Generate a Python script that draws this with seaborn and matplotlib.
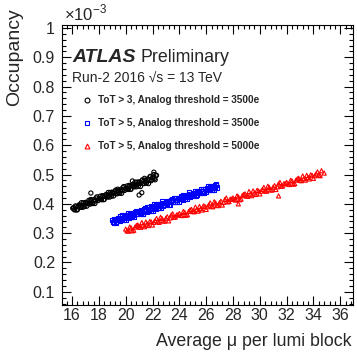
import matplotlib
matplotlib.use("Agg")
import matplotlib.pyplot as plt
from matplotlib.lines import Line2D
from matplotlib.ticker import MultipleLocator, FuncFormatter
import seaborn as sns
import pandas as pd

# Data (occupancy in units of 1e-3)
mu_tot3_3500_a = [16.1, 16.2, 16.3, 16.4, 16.5, 16.6, 16.7, 16.8, 16.9, 17.0,
                  17.1, 17.2, 17.3, 17.4, 17.5, 17.6, 17.7, 17.8, 17.9, 18.0,
                  18.1, 18.2, 18.3, 18.4, 18.5, 18.6, 18.7, 18.8, 18.9, 19.0,
                  19.1, 19.2, 19.3, 19.4, 19.5, 19.6, 19.7, 19.8, 19.9, 20.0,
                  20.1, 20.2, 20.3, 20.4, 20.5, 20.6, 20.7, 20.8, 20.9, 21.0,
                  21.1, 21.2, 21.3, 21.4, 21.5, 21.6, 21.7, 21.8, 21.9, 22.0,
                  22.1, 22.2, 22.3,
                  16.05, 17.4, 21.0, 21.2, 22.1, 20.5]
occ_tot3_3500_a = [0.387, 0.379, 0.390, 0.380, 0.395, 0.390, 0.404, 0.388, 0.397, 0.405,
                   0.392, 0.406, 0.401, 0.415, 0.403, 0.410, 0.401, 0.420, 0.411, 0.418,
                   0.426, 0.414, 0.425, 0.415, 0.430, 0.425, 0.439, 0.423, 0.432, 0.440,
                   0.427, 0.441, 0.436, 0.450, 0.438, 0.445, 0.436, 0.455, 0.446, 0.453,
                   0.461, 0.449, 0.460, 0.450, 0.465, 0.460, 0.474, 0.458, 0.467, 0.475,
                   0.459, 0.478, 0.469, 0.487, 0.471, 0.481, 0.469, 0.492, 0.479, 0.490,
                   0.500, 0.482, 0.497,
                   0.385, 0.437, 0.430, 0.438, 0.508, 0.478]
mu_tot3_3500_b = [16.15, 16.25, 16.35, 16.45, 16.55, 16.65, 16.75, 16.85, 16.95, 17.05,
                  17.15, 17.25, 17.35, 17.45, 17.55, 17.65, 17.75, 17.85, 17.95, 18.05,
                  18.15, 18.25, 18.35, 18.45, 18.55, 18.65, 18.75, 18.85, 18.95, 19.05,
                  19.15, 19.25, 19.35, 19.45, 19.55, 19.65, 19.75, 19.85, 19.95, 20.05,
                  20.15, 20.25, 20.35, 20.45, 20.55, 20.65, 20.75, 20.85, 20.95, 21.05,
                  21.15, 21.25, 21.35, 21.45, 21.55, 21.65, 21.75, 21.85, 21.95, 22.05,
                  22.15, 22.25]
occ_tot3_3500_b = [0.381, 0.393, 0.379, 0.391, 0.397, 0.388, 0.395, 0.404, 0.391, 0.403,
                   0.401, 0.412, 0.399, 0.411, 0.401, 0.415, 0.410, 0.424, 0.412, 0.418,
                   0.416, 0.428, 0.414, 0.426, 0.432, 0.423, 0.430, 0.439, 0.426, 0.438,
                   0.436, 0.447, 0.434, 0.446, 0.436, 0.450, 0.445, 0.459, 0.447, 0.453,
                   0.451, 0.463, 0.449, 0.461, 0.467, 0.458, 0.465, 0.474, 0.461, 0.473,
                   0.471, 0.482, 0.469, 0.481, 0.471, 0.485, 0.480, 0.494, 0.482, 0.488,
                   0.486, 0.498]

mu_tot5_3500_a = [19.0, 19.1, 19.2, 19.3, 19.4, 19.5, 19.6, 19.7, 19.8, 19.9,
                  20.0, 20.1, 20.2, 20.3, 20.4, 20.5, 20.6, 20.7, 20.8, 20.9,
                  21.0, 21.1, 21.2, 21.3, 21.4, 21.5, 21.6, 21.7, 21.8, 21.9,
                  22.0, 22.1, 22.2, 22.3, 22.4, 22.5, 22.6, 22.7, 22.8, 22.9,
                  23.0, 23.1, 23.2, 23.3, 23.4, 23.5, 23.6, 23.7, 23.8, 23.9,
                  24.0, 24.1, 24.2, 24.3, 24.4, 24.5, 24.6, 24.7, 24.8, 24.9,
                  25.0, 25.1, 25.2, 25.3, 25.4, 25.5, 25.6, 25.7, 25.8, 25.9,
                  26.0, 26.1, 26.2, 26.3, 26.4, 26.5, 26.6, 26.7, 26.8]
occ_tot5_3500_a = [0.344, 0.336, 0.346, 0.337, 0.351, 0.346, 0.359, 0.344, 0.352, 0.360,
                   0.346, 0.361, 0.355, 0.369, 0.357, 0.364, 0.355, 0.373, 0.364, 0.371,
                   0.375, 0.366, 0.377, 0.367, 0.382, 0.376, 0.390, 0.375, 0.383, 0.391,
                   0.377, 0.392, 0.386, 0.400, 0.387, 0.395, 0.385, 0.404, 0.394, 0.402,
                   0.406, 0.397, 0.408, 0.398, 0.413, 0.407, 0.421, 0.405, 0.414, 0.421,
                   0.408, 0.422, 0.417, 0.431, 0.418, 0.426, 0.416, 0.435, 0.425, 0.433,
                   0.436, 0.428, 0.438, 0.429, 0.443, 0.438, 0.452, 0.436, 0.445, 0.452,
                   0.439, 0.453, 0.448, 0.461, 0.449, 0.456, 0.447, 0.465, 0.456]
mu_tot5_3500_b = [19.05, 19.15, 19.25, 19.35, 19.45, 19.55, 19.65, 19.75, 19.85, 19.95,
                  20.05, 20.15, 20.25, 20.35, 20.45, 20.55, 20.65, 20.75, 20.85, 20.95,
                  21.05, 21.15, 21.25, 21.35, 21.45, 21.55, 21.65, 21.75, 21.85, 21.95,
                  22.05, 22.15, 22.25, 22.35, 22.45, 22.55, 22.65, 22.75, 22.85, 22.95,
                  23.05, 23.15, 23.25, 23.35, 23.45, 23.55, 23.65, 23.75, 23.85, 23.95,
                  24.05, 24.15, 24.25, 24.35, 24.45, 24.55, 24.65, 24.75, 24.85, 24.95,
                  25.05, 25.15, 25.25, 25.35, 25.45, 25.55, 25.65, 25.75, 25.85, 25.95,
                  26.05, 26.15, 26.25, 26.35, 26.45, 26.55, 26.65, 26.75]
occ_tot5_3500_b = [0.338, 0.349, 0.335, 0.347, 0.353, 0.343, 0.350, 0.360, 0.346, 0.358,
                   0.355, 0.367, 0.353, 0.365, 0.354, 0.369, 0.363, 0.377, 0.364, 0.371,
                   0.369, 0.380, 0.366, 0.378, 0.384, 0.374, 0.381, 0.390, 0.377, 0.388,
                   0.386, 0.398, 0.384, 0.396, 0.385, 0.400, 0.394, 0.408, 0.395, 0.402,
                   0.399, 0.411, 0.396, 0.409, 0.415, 0.405, 0.412, 0.421, 0.408, 0.419,
                   0.417, 0.428, 0.415, 0.426, 0.416, 0.430, 0.425, 0.439, 0.426, 0.433,
                   0.430, 0.442, 0.427, 0.440, 0.445, 0.436, 0.442, 0.452, 0.438, 0.450,
                   0.448, 0.459, 0.446, 0.457, 0.447, 0.461, 0.456, 0.469]

mu_tot5_5000_a = [20.0, 20.2, 20.4, 20.6, 20.8, 21.0, 21.2, 21.4, 21.6, 21.8,
                  22.0, 22.2, 22.4, 22.6, 22.8, 23.0, 23.2, 23.4, 23.6, 23.8,
                  24.0, 24.2, 24.4, 24.6, 24.8, 25.0, 25.2, 25.4, 25.6, 25.8,
                  26.0, 26.2, 26.4, 26.6, 26.8, 27.0, 27.2, 27.4, 27.6, 27.8,
                  28.0, 28.2, 28.4, 28.6, 28.8, 29.0, 29.2, 29.4, 29.6, 29.8,
                  30.0, 30.2, 30.4, 30.6, 30.8, 31.0, 31.2, 31.4, 31.6, 31.8,
                  32.0, 32.2, 32.4, 32.6, 32.8, 33.0, 33.2, 33.4, 33.6, 33.8,
                  34.0, 34.2, 34.4, 34.6,
                  28.4, 31.4, 34.8]
occ_tot5_5000_a = [0.314, 0.307, 0.318, 0.310, 0.326, 0.321, 0.336, 0.322, 0.331, 0.340,
                   0.328, 0.343, 0.339, 0.354, 0.342, 0.351, 0.342, 0.362, 0.354, 0.362,
                   0.367, 0.360, 0.371, 0.363, 0.379, 0.374, 0.389, 0.375, 0.384, 0.393,
                   0.381, 0.396, 0.392, 0.407, 0.395, 0.404, 0.396, 0.415, 0.407, 0.416,
                   0.420, 0.413, 0.424, 0.416, 0.432, 0.427, 0.442, 0.428, 0.437, 0.446,
                   0.434, 0.449, 0.445, 0.460, 0.448, 0.457, 0.449, 0.468, 0.460, 0.469,
                   0.473, 0.466, 0.478, 0.469, 0.485, 0.480, 0.495, 0.481, 0.490, 0.499,
                   0.487, 0.502, 0.498, 0.513,
                   0.400, 0.427, 0.505]
mu_tot5_5000_b = [20.1, 20.3, 20.5, 20.7, 20.9, 21.1, 21.3, 21.5, 21.7, 21.9,
                  22.1, 22.3, 22.5, 22.7, 22.9, 23.1, 23.3, 23.5, 23.7, 23.9,
                  24.1, 24.3, 24.5, 24.7, 24.9, 25.1, 25.3, 25.5, 25.7, 25.9,
                  26.1, 26.3, 26.5, 26.7, 26.9, 27.1, 27.3, 27.5, 27.7, 27.9,
                  28.1, 28.3, 28.5, 28.7, 28.9, 29.1, 29.3, 29.5, 29.7, 29.9,
                  30.1, 30.3, 30.5, 30.7, 30.9, 31.1, 31.3, 31.5, 31.7, 31.9,
                  32.1, 32.3, 32.5, 32.7, 32.9, 33.1, 33.3, 33.5, 33.7, 33.9,
                  34.1, 34.3, 34.5]
occ_tot5_5000_b = [0.308, 0.321, 0.308, 0.321, 0.328, 0.320, 0.327, 0.338, 0.326, 0.338,
                   0.337, 0.350, 0.337, 0.350, 0.341, 0.356, 0.352, 0.366, 0.355, 0.363,
                   0.361, 0.374, 0.361, 0.374, 0.381, 0.373, 0.380, 0.391, 0.379, 0.391,
                   0.390, 0.403, 0.390, 0.403, 0.394, 0.409, 0.405, 0.420, 0.408, 0.416,
                   0.415, 0.427, 0.414, 0.428, 0.434, 0.426, 0.433, 0.444, 0.432, 0.444,
                   0.443, 0.456, 0.443, 0.456, 0.447, 0.462, 0.458, 0.473, 0.461, 0.469,
                   0.468, 0.480, 0.467, 0.481, 0.487, 0.479, 0.486, 0.497, 0.485, 0.497,
                   0.496, 0.509, 0.496]

series_labels = ["ToT > 3, Analog threshold = 3500e",
                 "ToT > 5, Analog threshold = 3500e",
                 "ToT > 5, Analog threshold = 5000e"]
series_colors = ["black", "#0000ff", "#ff0000"]
series_markers = ["o", "s", "^"]

sns.set_style("ticks")
plt.rcParams["font.family"] = ["Liberation Sans", "DejaVu Sans"]
plt.rcParams["mathtext.fontset"] = "custom"
plt.rcParams["mathtext.rm"] = "Liberation Sans"

fig = plt.figure(figsize=(3.57, 3.59), dpi=100)
ax = fig.add_axes([62 / 357, 1 - 305 / 359, 291 / 357, 280 / 359])

datasets = [(mu_tot3_3500_a + mu_tot3_3500_b, occ_tot3_3500_a + occ_tot3_3500_b),
            (mu_tot5_3500_a + mu_tot5_3500_b, occ_tot5_3500_a + occ_tot5_3500_b),
            (mu_tot5_5000_a + mu_tot5_5000_b, occ_tot5_5000_a + occ_tot5_5000_b)]
for (xs, ys), lab, col, mk in zip(datasets, series_labels, series_colors, series_markers):
    df = pd.DataFrame({"mu": xs, "occ": ys})
    sns.scatterplot(data=df, x="mu", y="occ", marker=mk, s=9, color=col,
                    linewidth=0.8, ax=ax, legend=False, zorder=3)
    coll = ax.collections[-1]
    coll.set_facecolor("none")
    coll.set_edgecolor(col)

ax.set_xlim(15.25, 36.95)
ax.set_ylim(0.055, 1.01)
ax.xaxis.set_major_locator(MultipleLocator(2))
ax.xaxis.set_minor_locator(MultipleLocator(0.4))
ax.yaxis.set_major_locator(MultipleLocator(0.1))
ax.yaxis.set_minor_locator(MultipleLocator(0.02))
ax.yaxis.set_major_formatter(FuncFormatter(lambda v, p: f"{v:.1f}".rstrip("0").rstrip(".") if v < 0.99 else "1"))
ax.tick_params(which="both", direction="in", top=True, right=True, bottom=True, left=True,
               width=0.8, color="black")
ax.tick_params(which="major", length=6.5, labelsize=11.5)
ax.tick_params(axis="y", which="major", pad=5)
ax.tick_params(axis="x", which="major", pad=2.5)
ax.tick_params(which="minor", length=3.2)
for sp in ax.spines.values():
    sp.set_linewidth(0.8)
    sp.set_color("black")
ax.set_xlabel("")
ax.set_ylabel("")

fig.text(352 / 357, 1 - 341 / 359, "Average μ per lumi block", ha="right", va="center", fontsize=12.8)
fig.text(15 / 357, 1 - 8 / 359, "Occupancy", rotation=90, ha="center", va="top", fontsize=14)
fig.text(64 / 357, 1 - 13 / 359, r"$\times$10$^{-3}$", ha="left", va="center", fontsize=12)

ax.text(72 / 357, 1 - 58 / 359, "ATLAS", transform=fig.transFigure, fontsize=14,
        fontweight="bold", fontstyle="italic", ha="left", va="center")
ax.text(140 / 357, 1 - 58 / 359, "Preliminary", transform=fig.transFigure, fontsize=12.8,
        ha="left", va="center")
ax.text(72 / 357, 1 - 79 / 359, "Run-2 2016 √s = 13 TeV", transform=fig.transFigure,
        fontsize=10, ha="left", va="center")

handles = [Line2D([], [], linestyle="none", marker=mk, markersize=3.5, markerfacecolor="none",
                  markeredgecolor=col, markeredgewidth=0.8)
           for col, mk in zip(series_colors, series_markers)]
leg = ax.legend(handles, series_labels, loc="upper left", bbox_to_anchor=(0.07, 0.75),
                frameon=False, prop={"weight": "bold", "size": 7.2}, handlelength=1.0,
                handletextpad=0.6, labelspacing=1.3, borderpad=0, borderaxespad=0)

fig.savefig("out.png", dpi=100)
